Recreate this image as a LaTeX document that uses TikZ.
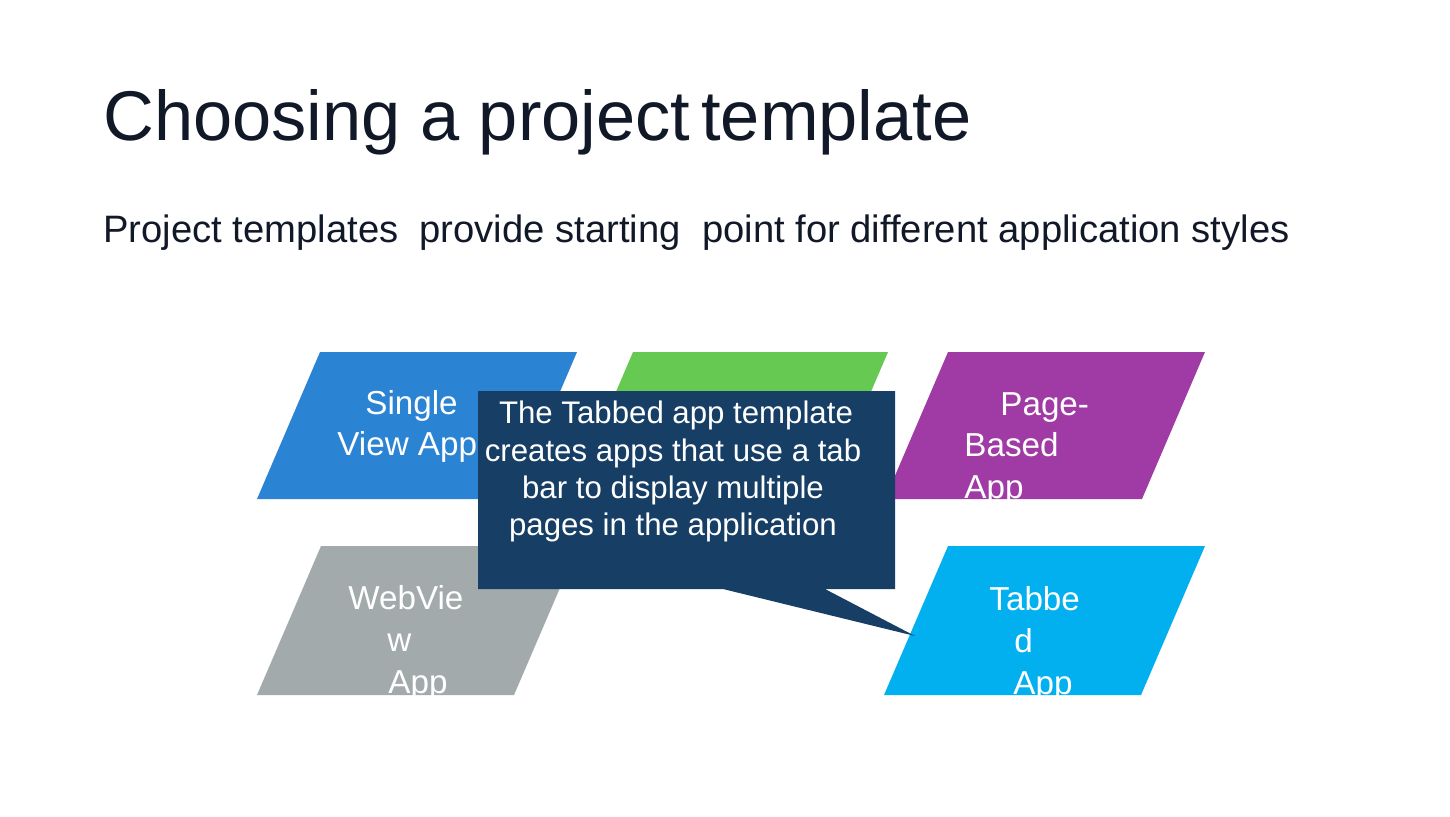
\documentclass[tikz,border=0pt]{standalone}
\usepackage{fontspec}
\setmainfont{Liberation Sans}
\definecolor{titlecol}{HTML}{111827}
\definecolor{bluecol}{HTML}{2B83D4}
\definecolor{greencol}{HTML}{66C951}
\definecolor{purplecol}{HTML}{A03BA6}
\definecolor{graycol}{HTML}{A3AAAB}
\definecolor{cyancol}{HTML}{02B0EF}
\definecolor{navycol}{HTML}{173F66}
\begin{document}
\begin{tikzpicture}[x=0.5pt,y=-0.5pt,
  lbl/.style={anchor=base west,inner sep=0pt,text=white,font=\fontsize{16.6}{19}\selectfont},
  ctext/.style={anchor=base,inner sep=0pt,text=white,font=\fontsize{15.6}{18}\selectfont},
  ttl/.style={anchor=base west,inner sep=0pt,text=titlecol}]
\useasboundingbox[fill=white] (0,0) rectangle (1450,816);
% title
\node[ttl,font=\fontsize{35.2}{40}\selectfont] (title) at (103,140) {Choosing a project\hspace{-0.12em} template};
\node[ttl,font=\fontsize{19.1}{22}\selectfont] (subtitle) at (103,242) {Project templates\ \ provide starting\ \ point for different application styles};
% parallelograms
\fill[bluecol] (320,352) -- (577,352) -- (514,499) -- (257,499) -- cycle;
\fill[greencol] (633,352) -- (888,352) -- (825,499) -- (570,499) -- cycle;
\fill[purplecol] (948,352) -- (1205,352) -- (1142,499) -- (885,499) -- cycle;
\fill[graycol] (321,546) -- (578,546) -- (514,695) -- (257,695) -- cycle;
\fill[cyancol] (948,546) -- (1205,546) -- (1141,695) -- (884,695) -- cycle;
% shape labels
\node[lbl] (s1) at (365,414) {Single};
\node[lbl] (s2) at (337,455) {View App};
\node[lbl] (p1) at (1000,415) {Page-};
\node[lbl] (p2) at (964,456) {Based};
\node[lbl] (p3) at (964,498) {App};
\node[lbl] (w1) at (348,609) {WebVie};
\node[lbl] (w2) at (387,651) {w};
\node[lbl] (w3) at (388,693) {App};
\node[lbl] (t1) at (989,610) {Tabbe};
\node[lbl] (t2) at (1014,652) {d};
\node[lbl] (t3) at (1013,694) {App};
% callout
\fill[navycol] (478,391) -- (895,391) -- (895,589) -- (825,589) -- (915,636) -- (723,589) -- (478,589) -- cycle;
\node[ctext] (c1) at (676,423) {The Tabbed app template};
\node[ctext] (c2) at (673,461) {creates apps that use a tab};
\node[ctext] (c3) at (673,498) {bar to display multiple};
\node[ctext] (c4) at (673,535) {pages in the application};
\end{tikzpicture}
\end{document}
